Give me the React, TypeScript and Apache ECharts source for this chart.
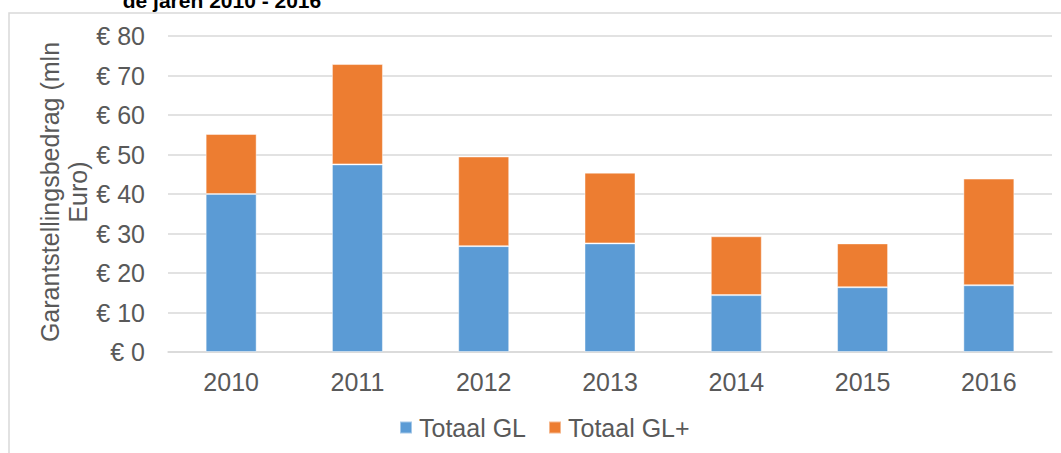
import React, { useEffect, useRef } from "react";
import * as echarts from "echarts";

const categories = ["2010", "2011", "2012", "2013", "2014", "2015", "2016"];
const totaalGL = [40.0, 47.5, 26.8, 27.5, 14.4, 16.4, 16.9];
const totaalGLPlus = [15.2, 25.4, 22.7, 17.9, 14.9, 11.1, 27.0];
const yTicks = [0, 10, 20, 30, 40, 50, 60, 70, 80];

const FONT = "'Liberation Sans', Arial, sans-serif";
const GREY = "#595959";
const FS = 25;

export default function App() {
  const ref = useRef<HTMLDivElement>(null);
  useEffect(() => {
    document.body.style.margin = "0";
    const chart = echarts.init(ref.current!, null, { renderer: "svg" });
    chart.setOption({
      animation: false,
      backgroundColor: "#ffffff",
      grid: { left: 168, right: 9, top: 36, bottom: 101, containLabel: false },
      legend: {
        bottom: 8,
        left: 394,
        itemWidth: 12,
        itemHeight: 12,
        itemGap: 22,
        icon: "rect",
        textStyle: { color: GREY, fontSize: FS, fontFamily: FONT, padding: [0, 0, 0, 2] },
        data: ["Totaal GL", "Totaal GL+"],
      },
      xAxis: {
        type: "category",
        data: categories,
        axisLine: { lineStyle: { color: "#d9d9d9", width: 1.5 } },
        axisTick: { show: false },
        axisLabel: { color: GREY, fontSize: FS, fontFamily: FONT, margin: 17 },
      },
      yAxis: {
        type: "value",
        min: yTicks[0],
        max: yTicks[yTicks.length - 1],
        interval: 10,
        axisLine: { show: false },
        axisTick: { show: false },
        splitLine: { lineStyle: { color: "#d9d9d9", width: 1.5 } },
        axisLabel: {
          color: GREY,
          fontSize: FS,
          fontFamily: FONT,
          margin: 23,
          formatter: (v: number) => "€ " + v,
        },
      },
      graphic: [
        {
          type: "rect",
          shape: { x: 9, y: 13, width: 1100, height: 500 },
          style: { fill: "none", stroke: "#d9d9d9", lineWidth: 1.5 },
          silent: true,
          z: -1,
        },
        {
          type: "text",
          x: 222,
          y: 11,
          style: {
            text: "de jaren 2010 - 2016",
            font: "bold 21px " + FONT,
            fill: "#000000",
            textAlign: "center",
            textVerticalAlign: "bottom",
          },
        },
        {
          type: "text",
          x: 64,
          y: 192,
          rotation: Math.PI / 2,
          style: {
            text: "Garantstellingsbedrag (mln\nEuro)",
            font: FS + "px " + FONT,
            fill: GREY,
            textAlign: "center",
            textVerticalAlign: "middle",
            lineHeight: 28,
          },
        },
      ],
      series: [
        {
          name: "Totaal GL",
          type: "bar",
          stack: "total",
          data: totaalGL,
          barWidth: 51,
          itemStyle: { color: "#5B9BD5", borderColor: "rgba(255,255,255,0.45)", borderWidth: 1 },
        },
        {
          name: "Totaal GL+",
          type: "bar",
          stack: "total",
          data: totaalGLPlus,
          barWidth: 51,
          itemStyle: { color: "#ED7D31", borderColor: "rgba(255,255,255,0.45)", borderWidth: 1 },
        },
      ],
    });
    return () => chart.dispose();
  }, []);
  return <div ref={ref} style={{ width: 1061, height: 453 }} />;
}
